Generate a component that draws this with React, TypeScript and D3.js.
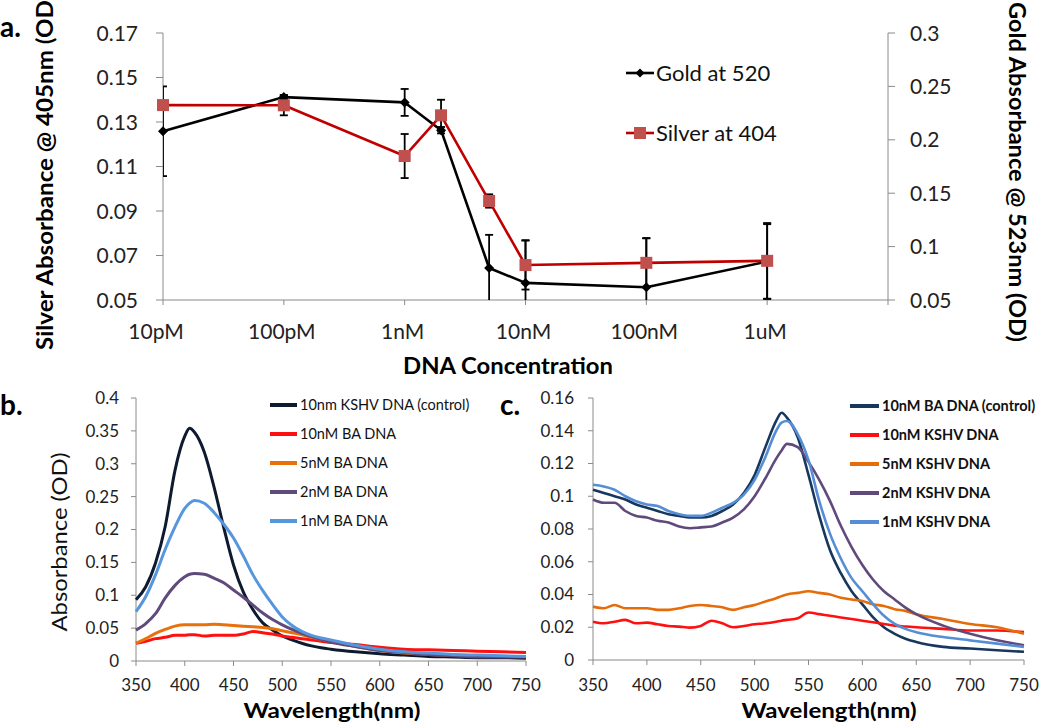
import React from 'react';
import * as d3 from 'd3';

// ---------- Panel a data ----------
const concentrations = [1e-11, 1e-10, 1e-9, 2e-9, 5e-9, 1e-8, 1e-7, 1e-6];
const goldValues = [0.208, 0.24, 0.235, 0.209, 0.08, 0.066, 0.062, 0.086];
const goldErrors = [0.042, 0.002, 0.0126, 0.003, 0.031, 0.04, 0.046, 0.035];
const silverValues = [0.1376, 0.1375, 0.1147, 0.133, 0.0945, 0.0657, 0.0667, 0.0676];
const silverErrors = [0.002, 0.0045, 0.0099, 0.007, 0.003, 0.011, 0.011, 0.017];
const concTicks = [1e-11, 1e-10, 1e-9, 1e-8, 1e-7, 1e-6, 1e-5];
const concLabels = ['10pM', '100pM', '1nM', '10nM', '100nM', '1uM', ''];
const silverTicks = [0.05, 0.07, 0.09, 0.11, 0.13, 0.15, 0.17];
const goldTicks = [0.05, 0.1, 0.15, 0.2, 0.25, 0.3];

// ---------- Panel b data ----------
const wavelengthsB = [350, 360, 370, 380, 390, 400, 405, 410, 420, 430, 440, 450, 460, 470, 480, 490, 500, 510, 520, 530, 540, 550, 575, 600, 625, 650, 675, 700, 725, 750];
const bKshvControl = [0.093, 0.113, 0.149, 0.205, 0.29, 0.342, 0.354, 0.348, 0.318, 0.265, 0.203, 0.146, 0.105, 0.078, 0.058, 0.047, 0.038, 0.032, 0.027, 0.023, 0.02, 0.018, 0.014, 0.011, 0.009, 0.007, 0.006, 0.005, 0.005, 0.004];
const bBa10 = [0.027, 0.03, 0.034, 0.036, 0.039, 0.039, 0.04, 0.04, 0.038, 0.039, 0.039, 0.039, 0.041, 0.045, 0.043, 0.041, 0.038, 0.036, 0.034, 0.032, 0.03, 0.028, 0.025, 0.021, 0.018, 0.017, 0.016, 0.015, 0.014, 0.013];
const bBa5 = [0.027, 0.034, 0.042, 0.048, 0.053, 0.055, 0.055, 0.055, 0.055, 0.056, 0.055, 0.054, 0.053, 0.052, 0.051, 0.049, 0.046, 0.043, 0.04, 0.036, 0.033, 0.03, 0.022, 0.016, 0.012, 0.01, 0.009, 0.008, 0.007, 0.007];
const bBa2 = [0.047, 0.057, 0.072, 0.096, 0.115, 0.128, 0.132, 0.133, 0.132, 0.126, 0.119, 0.108, 0.097, 0.085, 0.073, 0.063, 0.055, 0.048, 0.042, 0.037, 0.033, 0.029, 0.022, 0.016, 0.013, 0.01, 0.008, 0.006, 0.006, 0.006];
const bBa1 = [0.075, 0.098, 0.131, 0.17, 0.204, 0.232, 0.24, 0.244, 0.24, 0.226, 0.208, 0.187, 0.16, 0.131, 0.107, 0.086, 0.067, 0.054, 0.045, 0.039, 0.035, 0.032, 0.024, 0.018, 0.014, 0.012, 0.01, 0.009, 0.008, 0.007];
const bLabels = ['10nm KSHV DNA (control)', '10nM BA DNA', '5nM BA DNA', '2nM BA DNA', '1nM BA DNA'];
const bColors = ['#0e1a30', '#ff1010', '#e8710a', '#604a7b', '#5596dc'];
const bYTicks = [0, 0.05, 0.1, 0.15, 0.2, 0.25, 0.3, 0.35, 0.4];

// ---------- Panel c data ----------
const wavelengthsC = [350, 360, 370, 380, 390, 400, 410, 420, 430, 440, 450, 460, 470, 480, 490, 500, 510, 520, 525, 530, 540, 550, 560, 570, 580, 590, 600, 610, 620, 630, 640, 650, 675, 700, 725, 750];
const cBaControl = [0.104, 0.102, 0.1, 0.098, 0.095, 0.093, 0.091, 0.089, 0.088, 0.087, 0.087, 0.088, 0.091, 0.095, 0.102, 0.113, 0.13, 0.146, 0.151, 0.148, 0.136, 0.113, 0.088, 0.067, 0.053, 0.042, 0.034, 0.026, 0.02, 0.016, 0.013, 0.011, 0.008, 0.007, 0.006, 0.005];
const cKshv10 = [0.0234, 0.0224, 0.0234, 0.0245, 0.0224, 0.0228, 0.0218, 0.0208, 0.0204, 0.0198, 0.0208, 0.024, 0.0224, 0.02, 0.0208, 0.0218, 0.0224, 0.0234, 0.024, 0.0245, 0.0255, 0.029, 0.028, 0.027, 0.026, 0.025, 0.024, 0.023, 0.022, 0.021, 0.0205, 0.02, 0.019, 0.018, 0.018, 0.017];
const cKshv5 = [0.0326, 0.0316, 0.0336, 0.0316, 0.0316, 0.0316, 0.0306, 0.0306, 0.0316, 0.033, 0.0336, 0.033, 0.0322, 0.0306, 0.0322, 0.0336, 0.0357, 0.0377, 0.039, 0.04, 0.041, 0.042, 0.041, 0.04, 0.038, 0.037, 0.036, 0.034, 0.033, 0.031, 0.03, 0.028, 0.025, 0.022, 0.02, 0.016];
const cKshv2 = [0.098, 0.096, 0.096, 0.091, 0.088, 0.087, 0.085, 0.084, 0.0815, 0.0805, 0.081, 0.0815, 0.084, 0.087, 0.092, 0.1, 0.111, 0.123, 0.128, 0.132, 0.13, 0.121, 0.11, 0.097, 0.082, 0.069, 0.058, 0.049, 0.042, 0.037, 0.032, 0.028, 0.021, 0.016, 0.012, 0.009];
const cKshv1 = [0.107, 0.106, 0.104, 0.1, 0.097, 0.095, 0.094, 0.091, 0.089, 0.088, 0.088, 0.09, 0.093, 0.096, 0.101, 0.11, 0.124, 0.14, 0.145, 0.146, 0.138, 0.122, 0.097, 0.077, 0.062, 0.05, 0.042, 0.034, 0.027, 0.022, 0.019, 0.017, 0.014, 0.012, 0.01, 0.008];
const cLabels = ['10nM BA DNA (control)', '10nM KSHV DNA', '5nM KSHV DNA', '2nM KSHV DNA', '1nM KSHV DNA'];
const cColors = ['#17375e', '#ff1010', '#e46c0a', '#604a7b', '#558ed5'];
const cYTicks = [0, 0.02, 0.04, 0.06, 0.08, 0.1, 0.12, 0.14, 0.16];

const wlTicks = [350, 400, 450, 500, 550, 600, 650, 700, 750];

const FONT = "Lato, 'Open Sans', sans-serif";
const AXIS = '#8a8a8a';

function Spectrum(props: {
  x: d3.ScaleLinear<number, number>;
  y: d3.ScaleLinear<number, number>;
  wl: number[];
  series: number[][];
  colors: string[];
  width: number;
}) {
  const { x, y, wl, series, colors, width } = props;
  const line = d3
    .line<number>()
    .x((_, i) => x(wl[i]))
    .y((d) => y(d))
    .curve(d3.curveMonotoneX);
  return (
    <g>
      {series.map((s, k) => (
        <path key={k} d={line(s) || ''} fill="none" stroke={colors[k]} strokeWidth={width} strokeLinejoin="round" />
      ))}
    </g>
  );
}

function SpecAxes(props: {
  x: d3.ScaleLinear<number, number>;
  y: d3.ScaleLinear<number, number>;
  yTicks: number[];
  labelX: number;
  fmt: (v: number) => string;
}) {
  const { x, y, yTicks, labelX, fmt } = props;
  const [x0, x1] = x.range();
  const [yb, yt] = y.range();
  return (
    <g>
      <line x1={x0} x2={x0} y1={yt} y2={yb} stroke={AXIS} strokeWidth={1} />
      <line x1={x0} x2={x1} y1={yb} y2={yb} stroke={AXIS} strokeWidth={1} />
      {yTicks.map((t) => (
        <g key={t}>
          <line x1={x0 - 5} x2={x0} y1={y(t)} y2={y(t)} stroke={AXIS} />
          <text x={labelX} y={y(t)} dy="0.35em" textAnchor="end" fontSize={17} fill="#222">
            {fmt(t)}
          </text>
        </g>
      ))}
      {wlTicks.map((t) => (
        <g key={t}>
          <line x1={x(t)} x2={x(t)} y1={yb} y2={yb + 5} stroke={AXIS} />
          <text x={x(t)} y={685} dy="0.35em" textAnchor="middle" fontSize={17} fill="#222">
            {t}
          </text>
        </g>
      ))}
    </g>
  );
}

export default function App() {
  // ---- panel a scales ----
  const xA = d3.scaleLog().domain([1e-11, 1e-5]).range([163, 888]);
  const yL = d3.scaleLinear().domain([0.05, 0.17]).range([300, 33]);
  const yR = d3.scaleLinear().domain([0.05, 0.3]).range([300, 33]);

  const goldLine = d3
    .line<number>()
    .x((_, i) => xA(concentrations[i]))
    .y((d) => yR(d));
  const silverLine = d3
    .line<number>()
    .x((_, i) => xA(concentrations[i]))
    .y((d) => yL(d));

  // ---- panel b/c scales ----
  const xB = d3.scaleLinear().domain([350, 750]).range([136, 526]);
  const yB = d3.scaleLinear().domain([0, 0.4]).range([661, 398]);
  const xC = d3.scaleLinear().domain([350, 750]).range([593, 1024]);
  const yC = d3.scaleLinear().domain([0, 0.16]).range([660, 398]);

  const errBar = (cx: number, yTop: number, yBot: number, key: string) => (
    <g key={key}>
      <line x1={cx} x2={cx} y1={yTop} y2={yBot} stroke="#000" strokeWidth={1.8} />
      <line x1={cx - 4} x2={cx + 4} y1={yTop} y2={yTop} stroke="#000" strokeWidth={1.8} />
      <line x1={cx - 4} x2={cx + 4} y1={yBot} y2={yBot} stroke="#000" strokeWidth={1.8} />
    </g>
  );

  const diamond = (cx: number, cy: number, r: number, key: string) => (
    <path key={key} d={`M${cx},${cy - r}L${cx + r},${cy}L${cx},${cy + r}L${cx - r},${cy}Z`} fill="#000" />
  );

  const fmtB = (v: number) => (v === 0 ? '0' : String(+v.toFixed(2)));

  return (
    <svg
      width={1050}
      height={724}
      style={{ position: 'absolute', left: 0, top: 0, background: '#fff' }}
      fontFamily={FONT}
    >
      <defs>
        <clipPath id="plotA">
          <rect x={163} y={33} width={725} height={267} />
        </clipPath>
      </defs>
      <rect x={0} y={0} width={1050} height={724} fill="#fff" />

      {/* ============ Panel a ============ */}
      <text x={0} y={37} fontSize={28} fontWeight="bold" fill="#000">a.</text>

      {/* axes */}
      <line x1={163} x2={163} y1={33} y2={300} stroke={AXIS} />
      <line x1={888} x2={888} y1={33} y2={300} stroke={AXIS} />
      <line x1={163} x2={888} y1={300} y2={300} stroke={AXIS} />
      {silverTicks.map((t) => (
        <g key={'sl' + t}>
          <line x1={156} x2={163} y1={yL(t)} y2={yL(t)} stroke={AXIS} />
          <text x={138} y={yL(t)} dy="0.36em" textAnchor="end" fontSize={21} fill="#222">
            {t.toFixed(2)}
          </text>
        </g>
      ))}
      {goldTicks.map((t) => (
        <g key={'gr' + t}>
          <line x1={888} x2={895} y1={yR(t)} y2={yR(t)} stroke={AXIS} />
          <text x={910} y={yR(t)} dy="0.36em" textAnchor="start" fontSize={21} fill="#222">
            {String(+t.toFixed(2))}
          </text>
        </g>
      ))}
      {concTicks.map((t, i) => (
        <g key={'ct' + i}>
          <line x1={xA(t)} x2={xA(t)} y1={300} y2={305} stroke={AXIS} />
          <text x={xA(t) - (i === 0 ? 7 : 2)} y={331} dy="0.36em" textAnchor="middle" fontSize={21} fill="#222">
            {concLabels[i]}
          </text>
        </g>
      ))}

      {/* gold series (right axis) */}
      <g clipPath="url(#plotA)">
        {goldValues.map((v, i) =>
          errBar(xA(concentrations[i]), yR(v + goldErrors[i]), yR(v - goldErrors[i]), 'ge' + i)
        )}
      </g>
      <path d={goldLine(goldValues) || ''} fill="none" stroke="#000" strokeWidth={2.6} strokeLinejoin="round" />
      {goldValues.map((v, i) => diamond(xA(concentrations[i]), yR(v), 5, 'gd' + i))}

      {/* silver series (left axis) */}
      <g clipPath="url(#plotA)">
        {silverValues.map((v, i) =>
          errBar(xA(concentrations[i]), yL(v + silverErrors[i]), yL(v - silverErrors[i]), 'se' + i)
        )}
      </g>
      <path d={silverLine(silverValues) || ''} fill="none" stroke="#c00000" strokeWidth={2.6} strokeLinejoin="round" />
      {silverValues.map((v, i) => (
        <rect
          key={'sq' + i}
          x={xA(concentrations[i]) - 6}
          y={yL(v) - 6}
          width={12}
          height={12}
          fill="#c0504d"
        />
      ))}

      {/* legend a */}
      <line x1={626} x2={654} y1={73} y2={73} stroke="#000" strokeWidth={2.6} />
      {diamond(640, 73, 4.5, 'lgd')}
      <text x={656} y={73} dy="0.36em" fontSize={22} fill="#111">Gold at 520</text>
      <line x1={626} x2={654} y1={133} y2={133} stroke="#c00000" strokeWidth={2.6} />
      <rect x={634} y={127} width={12} height={12} fill="#c0504d" />
      <text x={656} y={133} dy="0.36em" fontSize={22} fill="#111">Silver at 404</text>

      {/* axis titles a */}
      <text
        transform="translate(53,172) rotate(-90)"
        textAnchor="middle"
        fontSize={23}
        fontWeight="bold"
        fill="#000"
        textLength={356}
        lengthAdjust="spacingAndGlyphs"
      >
        Silver Absorbance @ 405nm (OD)
      </text>
      <text
        transform="translate(1009,172) rotate(90)"
        textAnchor="middle"
        fontSize={23}
        fontWeight="bold"
        fill="#000"
        textLength={340}
        lengthAdjust="spacingAndGlyphs"
      >
        Gold Absorbance @ 523nm (OD)
      </text>
      <text x={508} y={374} textAnchor="middle" fontSize={23} fontWeight="bold" fill="#000" textLength={210} lengthAdjust="spacingAndGlyphs">
        DNA Concentration
      </text>

      {/* ============ Panel b ============ */}
      <text x={0} y={415} fontSize={28} fontWeight="bold" fill="#000">b.</text>
      <SpecAxes x={xB} y={yB} yTicks={bYTicks} labelX={119} fmt={fmtB} />
      <Spectrum x={xB} y={yB} wl={wavelengthsB} series={[bKshvControl, bBa10, bBa5, bBa2, bBa1]} colors={bColors} width={3} />
      {bLabels.map((lab, k) => (
        <g key={'lb' + k}>
          <line x1={270} x2={297} y1={405 + k * 29} y2={405 + k * 29} stroke={bColors[k]} strokeWidth={4} />
          <text x={300} y={405 + k * 29} dy="0.35em" fontSize={14.5} fill="#111">{lab}</text>
        </g>
      ))}
      <text
        transform="translate(67,542) rotate(-90)"
        textAnchor="middle"
        fontSize={22}
        fill="#111"
        textLength={179}
        lengthAdjust="spacingAndGlyphs"
      >
        Absorbance (OD)
      </text>
      <text x={332} y={718} textAnchor="middle" fontSize={21} fontWeight="bold" fill="#000" textLength={177} lengthAdjust="spacingAndGlyphs">
        Wavelength(nm)
      </text>

      {/* ============ Panel c ============ */}
      <text x={500} y={415} fontSize={28} fontWeight="bold" fill="#000">c.</text>
      <SpecAxes x={xC} y={yC} yTicks={cYTicks} labelX={574} fmt={fmtB} />
      <Spectrum x={xC} y={yC} wl={wavelengthsC} series={[cBaControl, cKshv10, cKshv5, cKshv2, cKshv1]} colors={cColors} width={2.6} />
      {cLabels.map((lab, k) => (
        <g key={'lc' + k}>
          <line x1={850} x2={879} y1={406 + k * 29} y2={406 + k * 29} stroke={cColors[k]} strokeWidth={4} />
          <text x={882} y={406 + k * 29} dy="0.35em" fontSize={14.5} fontWeight="bold" fill="#111">{lab}</text>
        </g>
      ))}
      <text x={829} y={718} textAnchor="middle" fontSize={21} fontWeight="bold" fill="#000" textLength={175} lengthAdjust="spacingAndGlyphs">
        Wavelength(nm)
      </text>
    </svg>
  );
}
